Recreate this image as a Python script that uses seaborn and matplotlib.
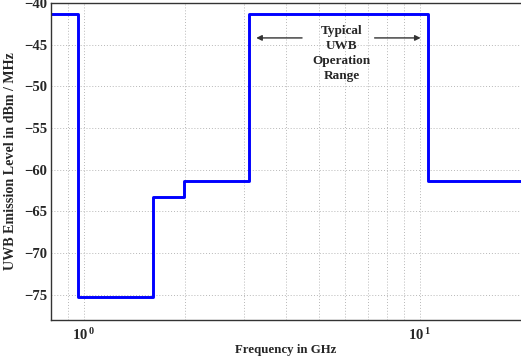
import matplotlib
matplotlib.use("Agg")
import matplotlib.pyplot as plt
from matplotlib.ticker import FixedLocator, NullFormatter, FixedFormatter
import seaborn as sns
import pandas as pd

# FCC indoor UWB emission mask: band edges (GHz) and EIRP limits (dBm/MHz)
freq_edges = [0.8, 0.96, 1.61, 1.99, 3.1, 10.6, 20.0]
emission_levels = [-41.3, -75.3, -63.3, -61.3, -41.3, -61.3, -61.3]
y_ticks = [-75, -70, -65, -60, -55, -50, -45, -40]
x_major = [1, 10]
x_major_labels = [r"$\mathbf{10}^{\,\mathbf{0}}$", r"$\mathbf{10}^{\,\mathbf{1}}$"]
x_minor = [0.9, 2, 3, 4, 5, 6, 7, 8, 9, 20]
band_start, band_stop = 3.1, 10.6

sns.set_theme(style="white")
plt.rcParams["font.family"] = ["Liberation Serif", "DejaVu Serif"]
plt.rcParams["mathtext.fontset"] = "custom"
plt.rcParams["mathtext.rm"] = "Liberation Serif:bold"
plt.rcParams["mathtext.bf"] = "Liberation Serif:bold"
plt.rcParams["mathtext.it"] = "Liberation Serif:bold"

df = pd.DataFrame({"freq": freq_edges, "level": emission_levels})

fig = plt.figure(figsize=(5.21, 3.61), dpi=100)
ax = fig.add_axes([0.098, 0.114, 0.902, 0.878])

sns.lineplot(data=df, x="freq", y="level", drawstyle="steps-post",
             estimator=None, color="#0000ff", linewidth=2.1, ax=ax)

ax.set_xscale("log")
ax.set_xlim(0.8, 20)
ax.set_ylim(-78, -40)

ax.xaxis.set_major_locator(FixedLocator(x_major))
ax.xaxis.set_major_formatter(FixedFormatter(x_major_labels))
ax.xaxis.set_minor_locator(FixedLocator(x_minor))
ax.xaxis.set_minor_formatter(NullFormatter())
ax.set_yticks(y_ticks)
ax.set_yticklabels([f"\u2212{abs(v)}" for v in y_ticks], fontweight="bold", fontsize=10.5)
for lbl in ax.get_xticklabels():
    lbl.set_fontsize(10.5)

ax.grid(True, which="both", axis="x", color="#b8b8b8", linestyle=(0, (1, 2)), linewidth=0.7)
ax.grid(True, which="major", axis="y", color="#b8b8b8", linestyle=(0, (1, 2)), linewidth=0.7)
ax.tick_params(axis="both", which="both", direction="in", length=3, color="#333333", pad=3)
ax.tick_params(axis="x", which="major", pad=5)

for side in ["left", "top", "bottom"]:
    ax.spines[side].set_color("#333333")
    ax.spines[side].set_linewidth(1.0)
ax.spines["right"].set_visible(False)

ax.set_xlabel("Frequency in GHz", fontweight="bold", fontsize=9.3, labelpad=1)
ax.set_ylabel("UWB Emission Level in dBm / MHz", fontweight="bold", fontsize=10.2, labelpad=5)

# Operating band annotation with arrows pointing to the band edges
center = (band_start * band_stop) ** 0.5
ax.text(center * 1.02, -42.7, "Typical\nUWB\nOperation\nRange", ha="center", va="top",
        fontsize=9.5, fontweight="bold", linespacing=1.3)
arrow_y = -44.2
arrow_kw = dict(arrowstyle="-|>", color="#333333", lw=1.0, mutation_scale=8)
ax.annotate("", xy=(3.2, arrow_y), xytext=(4.55, arrow_y), arrowprops=arrow_kw)
ax.annotate("", xy=(10.25, arrow_y), xytext=(7.2, arrow_y), arrowprops=arrow_kw)

fig.savefig("out.png", dpi=100)
